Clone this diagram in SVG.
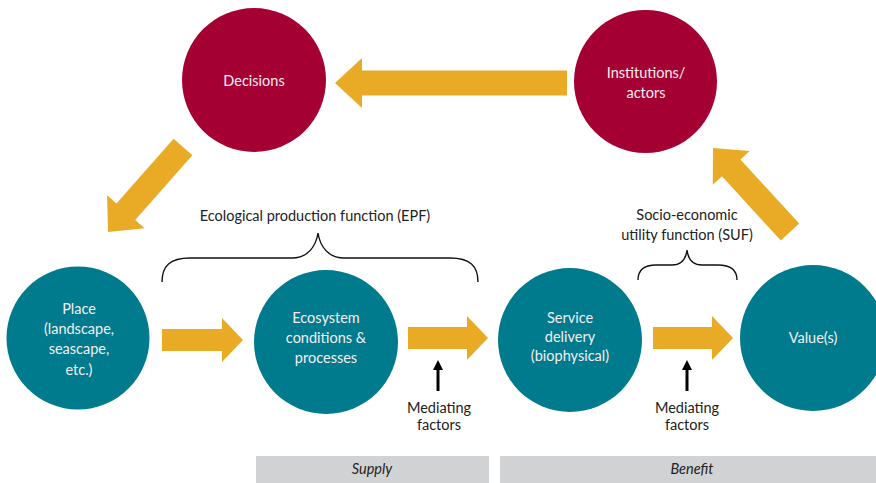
<svg xmlns="http://www.w3.org/2000/svg" width="876" height="483" viewBox="0 0 876 483">
  <style>
    .lbl { font-family: Lato, "Liberation Sans", sans-serif; font-size: 14.5px; fill: #222; text-anchor: middle; }
    .in { font-family: Lato, "Liberation Sans", sans-serif; font-size: 14.5px; fill: #F6EEF1; text-anchor: middle; }
    .red { fill: #A50034; }
    .teal { fill: #007A8D; }
    .flow { fill: #E9AB25; }
    .brace { fill: none; stroke: #111; stroke-width: 1.4; }
    .band { fill: #D1D2D4; }
    .band-t { font-family: Lato, "Liberation Sans", sans-serif; font-size: 14.5px; font-style: italic; fill: #222; text-anchor: middle; }
  </style>
  <rect width="876" height="483" fill="#fff"/>

  <!-- bands -->
  <g id="supply">
    <rect class="band" x="256" y="456" width="233" height="27"/>
    <text class="band-t" x="372" y="474">Supply</text>
  </g>
  <g id="benefit">
    <rect class="band" x="500" y="456" width="376" height="27"/>
    <text class="band-t" x="692" y="474">Benefit</text>
  </g>

  <!-- connectors -->
  <g id="connectors">
    <!-- Institutions -> Decisions -->
    <path class="flow" d="M567,70.5 H362 V58 L335,83 L362,108 V95.5 H567 Z"/>
    <!-- Decisions -> Place -->
    <path class="flow" transform="translate(108,232) rotate(131.4)" d="M0,0 L-27,-25 V-12.5 H-113.4 V12.5 H-27 V25 Z"/>
    <!-- Value(s) -> Institutions -->
    <path class="flow" transform="translate(713,148) rotate(-132.5)" d="M0,0 L-27,-25 V-12.5 H-114 V12.5 H-27 V25 Z"/>
    <!-- horizontal flows -->
    <path class="flow" d="M162,329 H222 V318 L243,340 L222,362 V351 H162 Z"/>
    <path class="flow" d="M408,327 H467 V316 L488,338 L467,360 V349 H408 Z"/>
    <path class="flow" d="M653,327 H712 V316 L733,338 L712,360 V349 H653 Z"/>
    <!-- mediating factor arrows -->
    <line x1="438" y1="391" x2="438" y2="368" stroke="#000" stroke-width="3"/>
    <path d="M438,360 L443,370 L433,370 Z" fill="#000"/>
    <line x1="687" y1="391" x2="687" y2="368" stroke="#000" stroke-width="3"/>
    <path d="M687,360 L692,370 L682,370 Z" fill="#000"/>
    <!-- braces -->
    <path class="brace" d="M162,282 C162,266 170,258 190,258 H292 C308,258 316,246 318,233 C320,246 328,258 344,258 H450 C470,258 478,266 478,282"/>
    <path class="brace" d="M638,280 C638,270 644,265 656,265 H672 C682,265 686,258 687,250 C688,258 692,265 702,265 H718 C730,265 737,270 737,280"/>
  </g>

  <g id="decisions">
    <circle class="red" cx="254" cy="80" r="72"/>
    <text class="in" x="254" y="86">Decisions</text>
  </g>
  <g id="institutions">
    <circle class="red" cx="645.5" cy="81.5" r="71.5"/>
    <text class="in" x="646" y="78">Institutions/</text>
    <text class="in" x="646" y="98">actors</text>
  </g>
  <g id="place">
    <circle class="teal" cx="78" cy="338" r="71.5"/>
    <text class="in" x="79" y="314">Place</text>
    <text class="in" x="79" y="334">(landscape,</text>
    <text class="in" x="79" y="354">seascape,</text>
    <text class="in" x="79" y="375">etc.)</text>
  </g>
  <g id="ecosystem">
    <circle class="teal" cx="326" cy="342" r="72"/>
    <text class="in" x="326" y="323">Ecosystem</text>
    <text class="in" x="326" y="343">conditions &amp;</text>
    <text class="in" x="326" y="363">processes</text>
  </g>
  <g id="service">
    <circle class="teal" cx="570" cy="340" r="72"/>
    <text class="in" x="570" y="323">Service</text>
    <text class="in" x="570" y="342">delivery</text>
    <text class="in" x="570" y="361">(biophysical)</text>
  </g>
  <g id="value">
    <circle class="teal" cx="813" cy="338" r="73"/>
    <text class="in" x="813" y="343">Value(s)</text>
  </g>

  <g id="labels">
    <text class="lbl" x="315" y="221">Ecological production function (EPF)</text>
    <text class="lbl" x="687" y="220">Socio-economic</text>
    <text class="lbl" x="687" y="240">utility function (SUF)</text>
    <text class="lbl" x="439" y="413">Mediating</text>
    <text class="lbl" x="439" y="430">factors</text>
    <text class="lbl" x="687" y="413">Mediating</text>
    <text class="lbl" x="687" y="430">factors</text>
  </g>
</svg>
